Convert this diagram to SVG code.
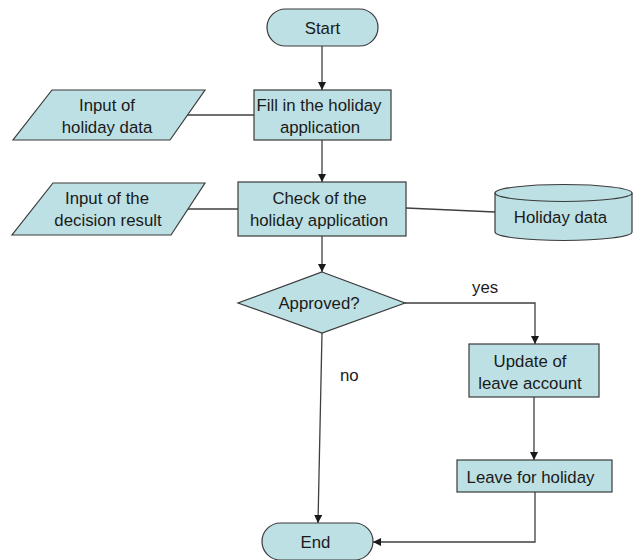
<svg xmlns="http://www.w3.org/2000/svg" width="636" height="560" viewBox="0 0 636 560">
  <defs>
    <style>
      .shape { fill: #bde0e4; stroke: #3a3a3a; stroke-width: 1.2; }
      .conn { fill: none; stroke: #3f3f3f; stroke-width: 1.3; }
      .arrow { fill: none; stroke: #3f3f3f; stroke-width: 1.3; marker-end: url(#head); }
      text { font-family: "Liberation Sans", Arial, sans-serif; font-size: 16.8px; fill: #1a1a1a; text-anchor: middle; }
      .lbl { text-anchor: start; }
    </style>
    <marker id="head" viewBox="0 0 10 10" refX="10" refY="5" markerWidth="8" markerHeight="8" markerUnits="userSpaceOnUse" orient="auto">
      <path d="M0,0 L10,5 L0,10 z" fill="#1a1a1a"/>
    </marker>
  </defs>

  <!-- connectors -->
  <g id="connectors">
    <line class="arrow" x1="322" y1="46" x2="322" y2="90"/>
    <line class="conn" x1="187" y1="115" x2="254" y2="115"/>
    <line class="arrow" x1="322" y1="140" x2="322" y2="182"/>
    <line class="conn" x1="187" y1="209" x2="238" y2="209"/>
    <line class="conn" x1="406" y1="208" x2="495" y2="212"/>
    <line class="arrow" x1="322" y1="236" x2="322" y2="272"/>
    <polyline class="arrow" points="405,303 535,303 535,344"/>
    <line class="arrow" x1="322" y1="333" x2="318" y2="523"/>
    <line class="arrow" x1="534" y1="397" x2="534" y2="460"/>
    <polyline class="arrow" points="535,492 535,542 373,542"/>
    <text class="lbl" x="472" y="293">yes</text>
    <text class="lbl" x="340" y="381">no</text>
  </g>

  <g id="start">
    <rect class="shape" x="267" y="9" width="111" height="37" rx="18.5" ry="18.5"/>
    <text x="322.5" y="34">Start</text>
  </g>

  <g id="input-holiday-data">
    <polygon class="shape" points="52,90 205,90 170,140 13,140"/>
    <text x="107" y="111">Input of</text>
    <text x="107" y="133">holiday data</text>
  </g>

  <g id="fill-application">
    <rect class="shape" x="254" y="90" width="137" height="50"/>
    <text x="319" y="111">Fill in the holiday</text>
    <text x="320" y="133">application</text>
  </g>

  <g id="input-decision">
    <polygon class="shape" points="53,183 205,183 171,235 12,235"/>
    <text x="107" y="204">Input of the</text>
    <text x="108" y="225.5">decision result</text>
  </g>

  <g id="check-application">
    <rect class="shape" x="238" y="182" width="168" height="54"/>
    <text x="319.5" y="204">Check of the</text>
    <text x="319" y="225.5">holiday application</text>
  </g>

  <g id="holiday-data">
    <path class="shape" d="M495,193 L495,232 A68.5,8.5 0 0 0 632,232 L632,193 A68.5,8.5 0 0 0 495,193 Z"/>
    <path class="shape" d="M495,193 A68.5,8.5 0 0 0 632,193" fill="none"/>
    <text x="560.5" y="223">Holiday data</text>
  </g>

  <g id="approved">
    <polygon class="shape" points="322,272 405,303 322,333 238,303"/>
    <text x="319" y="309">Approved?</text>
  </g>

  <g id="update-account">
    <rect class="shape" x="469" y="344" width="130" height="53"/>
    <text x="530" y="367">Update of</text>
    <text x="530" y="389">leave account</text>
  </g>

  <g id="leave-holiday">
    <rect class="shape" x="457" y="460" width="155" height="32"/>
    <text x="530.5" y="482.5">Leave for holiday</text>
  </g>

  <g id="end">
    <rect class="shape" x="262" y="523" width="111" height="37" rx="18.5" ry="18.5"/>
    <text x="315.5" y="548">End</text>
  </g>
</svg>
